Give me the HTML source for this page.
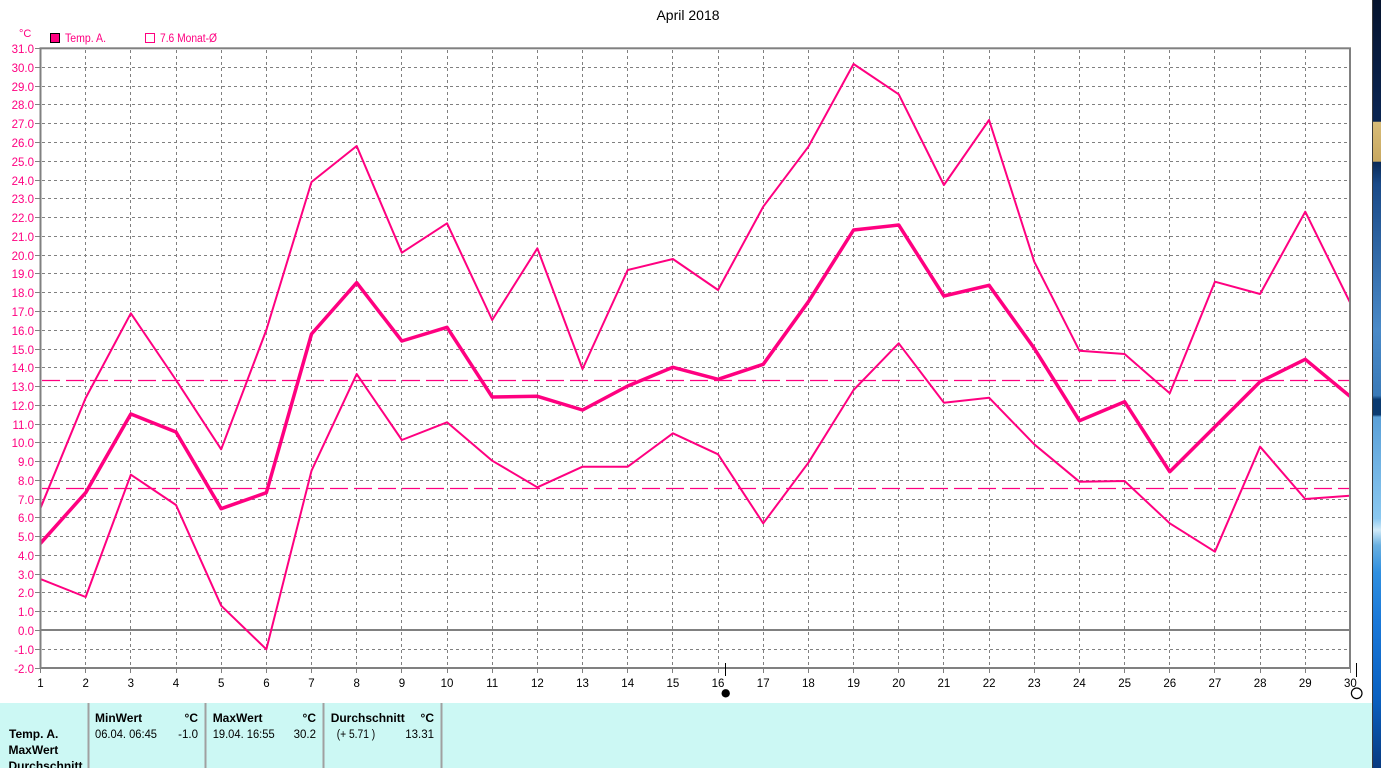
<!DOCTYPE html>
<html>
<head>
<meta charset="utf-8">
<style>
  html,body{margin:0;padding:0;background:#fff;}
  body{width:1381px;height:768px;overflow:hidden;}
  svg{display:block;font-family:"Liberation Sans",sans-serif;}
</style>
</head>
<body>
<svg width="1381" height="768" viewBox="0 0 1381 768" xmlns="http://www.w3.org/2000/svg">
  <defs>
    <linearGradient id="desk" x1="0" y1="0" x2="0" y2="1">
      <stop offset="0" stop-color="#06142e"/>
      <stop offset="0.145" stop-color="#0a2450"/>
      <stop offset="0.158" stop-color="#0a2450"/>
      <stop offset="0.159" stop-color="#d8bc78"/>
      <stop offset="0.21" stop-color="#c8a860"/>
      <stop offset="0.211" stop-color="#0a2a58"/>
      <stop offset="0.24" stop-color="#1a4a88"/>
      <stop offset="0.43" stop-color="#4a8ac8"/>
      <stop offset="0.515" stop-color="#3a7ab8"/>
      <stop offset="0.52" stop-color="#0a3a70"/>
      <stop offset="0.54" stop-color="#0a3a70"/>
      <stop offset="0.543" stop-color="#5aa0d8"/>
      <stop offset="0.675" stop-color="#8ac8f0"/>
      <stop offset="0.69" stop-color="#d0eaf8"/>
      <stop offset="0.71" stop-color="#6ab0e0"/>
      <stop offset="0.745" stop-color="#3090e0"/>
      <stop offset="0.81" stop-color="#1a78d8"/>
      <stop offset="0.91" stop-color="#0a60c0"/>
      <stop offset="1" stop-color="#083a80"/>
    </linearGradient>
    <clipPath id="plot"><rect x="41.5" y="49" width="1308" height="618"/></clipPath>
  </defs>

  <!-- desktop strip on right -->
  <rect x="1372" y="0" width="9" height="768" fill="url(#desk)"/>
  <rect x="1372" y="0" width="1" height="768" fill="#3a3a3a"/>

  <!-- title -->
  <text x="688" y="20" font-size="14" text-anchor="middle" fill="#000">April 2018</text>

  <!-- legend -->
  <text x="19" y="37" font-size="11" fill="#ff0080">°C</text>
  <rect x="50.5" y="33.5" width="9" height="9" fill="#ff0080" stroke="#000" stroke-width="1"/>
  <text x="65" y="42" font-size="11.5" fill="#ff0080" textLength="41" lengthAdjust="spacingAndGlyphs">Temp. A.</text>
  <rect x="145.5" y="33.5" width="9" height="9" fill="none" stroke="#ff0080" stroke-width="1"/>
  <text x="160" y="42" font-size="11.5" fill="#ff0080" textLength="57" lengthAdjust="spacingAndGlyphs">7.6 Monat-Ø</text>

  <!-- grid -->
  <g stroke="#808080" stroke-width="1" stroke-dasharray="3 3" fill="none" shape-rendering="crispEdges">
    <path d="M85.5 50V667M130.5 50V667M176.5 50V667M221.5 50V667M266.5 50V667M311.5 50V667M356.5 50V667M401.5 50V667M447.5 50V667M492.5 50V667M537.5 50V667M582.5 50V667M627.5 50V667M672.5 50V667M718.5 50V667M763.5 50V667M808.5 50V667M853.5 50V667M898.5 50V667M943.5 50V667M989.5 50V667M1034.5 50V667M1079.5 50V667M1124.5 50V667M1169.5 50V667M1214.5 50V667M1260.5 50V667M1305.5 50V667"/>
    <path d="M42 67.5H1349M42 86.5H1349M42 104.5H1349M42 123.5H1349M42 142.5H1349M42 161.5H1349M42 180.5H1349M42 198.5H1349M42 217.5H1349M42 236.5H1349M42 255.5H1349M42 273.5H1349M42 292.5H1349M42 311.5H1349M42 330.5H1349M42 349.5H1349M42 367.5H1349M42 386.5H1349M42 405.5H1349M42 424.5H1349M42 442.5H1349M42 461.5H1349M42 480.5H1349M42 499.5H1349M42 517.5H1349M42 536.5H1349M42 555.5H1349M42 574.5H1349M42 592.5H1349M42 611.5H1349M42 649.5H1349"/>
  </g>

  <!-- y ticks -->
  <g stroke="#808080" stroke-width="1" shape-rendering="crispEdges">
    <path d="M35 48.5H40M35 67.5H40M35 86.5H40M35 104.5H40M35 123.5H40M35 142.5H40M35 161.5H40M35 180.5H40M35 198.5H40M35 217.5H40M35 236.5H40M35 255.5H40M35 273.5H40M35 292.5H40M35 311.5H40M35 330.5H40M35 349.5H40M35 367.5H40M35 386.5H40M35 405.5H40M35 424.5H40M35 442.5H40M35 461.5H40M35 480.5H40M35 499.5H40M35 517.5H40M35 536.5H40M35 555.5H40M35 574.5H40M35 592.5H40M35 611.5H40M35 630.5H40M35 649.5H40M35 668.5H40"/>
  </g>

  <!-- y labels -->
  <g font-size="11.5" fill="#ff0080" text-anchor="end">
    <text x="34" y="53">31.0</text>
    <text x="34" y="72">30.0</text>
    <text x="34" y="91">29.0</text>
    <text x="34" y="109">28.0</text>
    <text x="34" y="128">27.0</text>
    <text x="34" y="147">26.0</text>
    <text x="34" y="166">25.0</text>
    <text x="34" y="185">24.0</text>
    <text x="34" y="203">23.0</text>
    <text x="34" y="222">22.0</text>
    <text x="34" y="241">21.0</text>
    <text x="34" y="260">20.0</text>
    <text x="34" y="278">19.0</text>
    <text x="34" y="297">18.0</text>
    <text x="34" y="316">17.0</text>
    <text x="34" y="335">16.0</text>
    <text x="34" y="354">15.0</text>
    <text x="34" y="372">14.0</text>
    <text x="34" y="391">13.0</text>
    <text x="34" y="410">12.0</text>
    <text x="34" y="429">11.0</text>
    <text x="34" y="447">10.0</text>
    <text x="34" y="466">9.0</text>
    <text x="34" y="485">8.0</text>
    <text x="34" y="504">7.0</text>
    <text x="34" y="522">6.0</text>
    <text x="34" y="541">5.0</text>
    <text x="34" y="560">4.0</text>
    <text x="34" y="579">3.0</text>
    <text x="34" y="597">2.0</text>
    <text x="34" y="616">1.0</text>
    <text x="34" y="635">0.0</text>
    <text x="34" y="654">-1.0</text>
    <text x="34" y="673">-2.0</text>
  </g>

  <!-- reference dashed lines -->
  <g stroke="#ff0080" stroke-width="1.2" stroke-dasharray="18 6" fill="none">
    <path d="M42 380.5H1349"/>
    <path d="M42 488.5H1349"/>
  </g>

  <!-- zero line -->
  <path d="M41 630H1350" stroke="#808080" stroke-width="2"/>

  <!-- data series -->
  <g clip-path="url(#plot)" fill="none" stroke="#ff0080" stroke-linejoin="round" stroke-linecap="round">
    <polyline stroke-width="2" points="40.5,508 85.67,398 130.84,313.3 176.01,380 221.18,449.3 266.35,330 311.52,182 356.69,146 401.86,252.7 447.03,223.3 492.2,320 537.37,248.3 582.54,369 627.71,270 672.88,259 718.05,290 763.22,206.7 808.39,146.7 853.56,64 898.73,94.3 943.9,185 989.07,120 1034.24,261.7 1079.41,350.7 1124.58,354 1169.75,393.3 1214.92,281.7 1260.09,294 1305.26,211.7 1350.43,303.3"/>
    <polyline stroke-width="3.5" points="40.5,543.3 85.67,492.7 130.84,414 176.01,432 221.18,508.7 266.35,492.7 311.52,334 356.69,282.7 401.86,341 447.03,327.3 492.2,397 537.37,396.3 582.54,410 627.71,386 672.88,367.3 718.05,379.3 763.22,364.3 808.39,301.7 853.56,230 898.73,225 943.9,296 989.07,285.3 1034.24,348.3 1079.41,420.7 1124.58,401.7 1169.75,471.7 1214.92,426.7 1260.09,381.7 1305.26,359.3 1350.43,396.7"/>
    <polyline stroke-width="2" points="40.5,579 85.67,597 130.84,474.7 176.01,505 221.18,605.7 266.35,649.3 311.52,470.7 356.69,374 401.86,440 447.03,422.3 492.2,460.7 537.37,487.3 582.54,466.7 627.71,466.7 672.88,433.3 718.05,454.3 763.22,523.3 808.39,462.7 853.56,390 898.73,343.3 943.9,402.7 989.07,397.7 1034.24,444.3 1079.41,481.7 1124.58,481 1169.75,523.3 1214.92,551.7 1260.09,446.7 1305.26,499 1350.43,495.7"/>
  </g>

  <!-- plot frame -->
  <rect x="40.5" y="48.3" width="1309.5" height="619.7" fill="none" stroke="#808080" stroke-width="2"/>

  <!-- x ticks -->
  <g stroke="#808080" stroke-width="1" shape-rendering="crispEdges">
    <path d="M40.5 669V673M85.5 669V673M130.5 669V673M176.5 669V673M221.5 669V673M266.5 669V673M311.5 669V673M356.5 669V673M401.5 669V673M447.5 669V673M492.5 669V673M537.5 669V673M582.5 669V673M627.5 669V673M672.5 669V673M718.5 669V673M763.5 669V673M808.5 669V673M853.5 669V673M898.5 669V673M943.5 669V673M989.5 669V673M1034.5 669V673M1079.5 669V673M1124.5 669V673M1169.5 669V673M1214.5 669V673M1260.5 669V673M1305.5 669V673M1350.5 669V673"/>
  </g>

  <!-- x labels -->
  <g font-size="11.5" fill="#000" text-anchor="middle">
    <text x="40.5" y="687">1</text>
    <text x="85.7" y="687">2</text>
    <text x="130.8" y="687">3</text>
    <text x="176" y="687">4</text>
    <text x="221.2" y="687">5</text>
    <text x="266.4" y="687">6</text>
    <text x="311.5" y="687">7</text>
    <text x="356.7" y="687">8</text>
    <text x="401.9" y="687">9</text>
    <text x="447" y="687">10</text>
    <text x="492.2" y="687">11</text>
    <text x="537.4" y="687">12</text>
    <text x="582.5" y="687">13</text>
    <text x="627.7" y="687">14</text>
    <text x="672.9" y="687">15</text>
    <text x="718" y="687">16</text>
    <text x="763.2" y="687">17</text>
    <text x="808.4" y="687">18</text>
    <text x="853.6" y="687">19</text>
    <text x="898.7" y="687">20</text>
    <text x="943.9" y="687">21</text>
    <text x="989.1" y="687">22</text>
    <text x="1034.2" y="687">23</text>
    <text x="1079.4" y="687">24</text>
    <text x="1124.6" y="687">25</text>
    <text x="1169.8" y="687">26</text>
    <text x="1214.9" y="687">27</text>
    <text x="1260.1" y="687">28</text>
    <text x="1305.3" y="687">29</text>
    <text x="1350.4" y="687">30</text>
  </g>

  <!-- markers -->
  <path d="M725.5 663V676" stroke="#000" stroke-width="1"/>
  <circle cx="725.7" cy="693.3" r="4.2" fill="#000"/>
  <path d="M1356.5 663V677" stroke="#000" stroke-width="1"/>
  <circle cx="1356.7" cy="693.3" r="5.3" fill="none" stroke="#000" stroke-width="1.2"/>

  <!-- bottom panel -->
  <rect x="0" y="703" width="1372" height="65" fill="#ccf8f4"/>
  <g fill="#a0a0a0">
    <rect x="87.5" y="703" width="2" height="65"/>
    <rect x="204.5" y="703" width="2" height="65"/>
    <rect x="322.5" y="703" width="2" height="65"/>
    <rect x="440.5" y="703" width="2" height="65"/>
  </g>
  <g font-size="12" font-weight="bold" fill="#000">
    <text x="9" y="738">Temp. A.</text>
    <text x="8.5" y="754">MaxWert</text>
    <text x="8.5" y="770">Durchschnitt</text>
    <text x="95" y="722">MinWert</text>
    <text x="198" y="722" text-anchor="end">°C</text>
    <text x="212.7" y="722">MaxWert</text>
    <text x="316" y="722" text-anchor="end">°C</text>
    <text x="330.7" y="722">Durchschnitt</text>
    <text x="434" y="722" text-anchor="end">°C</text>
  </g>
  <g font-size="11.5" fill="#000" xml:space="preserve">
    <text x="95" y="738" textLength="62" lengthAdjust="spacingAndGlyphs">06.04.  06:45</text>
    <text x="198" y="738" text-anchor="end">-1.0</text>
    <text x="212.7" y="738" textLength="62" lengthAdjust="spacingAndGlyphs">19.04.  16:55</text>
    <text x="316" y="738" text-anchor="end">30.2</text>
    <text x="336.7" y="738" textLength="38.5" lengthAdjust="spacingAndGlyphs">(+ 5.71 )</text>
    <text x="434" y="738" text-anchor="end">13.31</text>
  </g>
</svg>
</body>
</html>
